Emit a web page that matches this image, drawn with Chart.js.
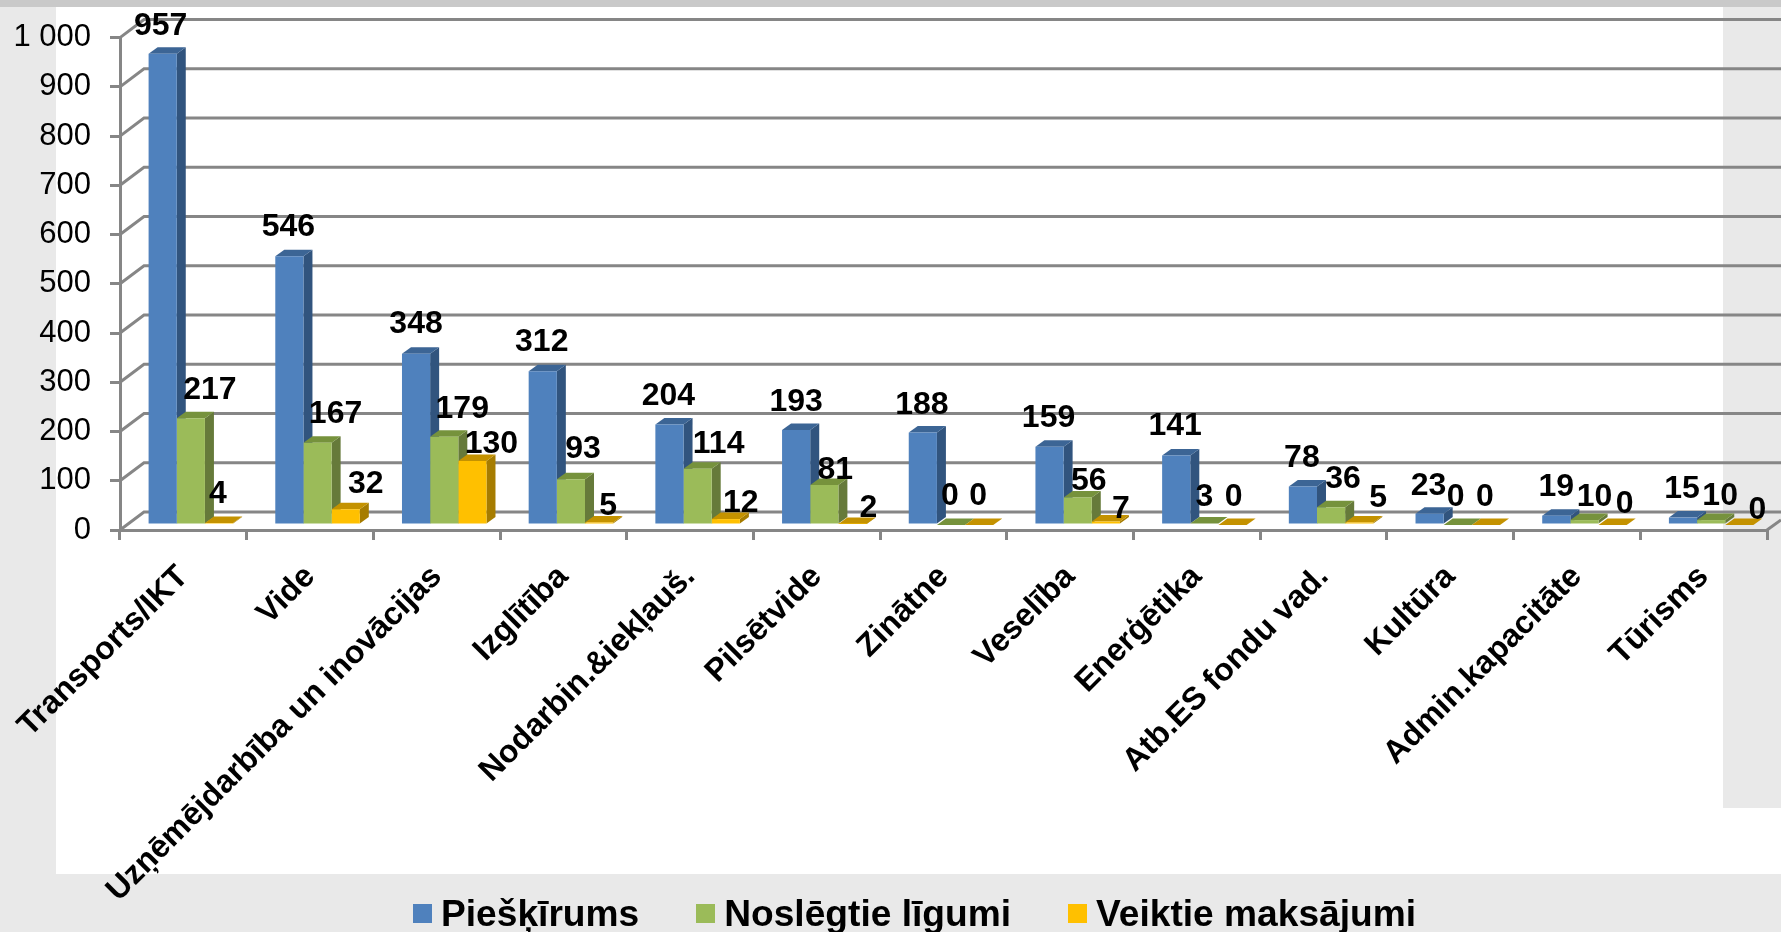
<!DOCTYPE html>
<html>
<head>
<meta charset="utf-8">
<title>Chart</title>
<script src="https://cdn.jsdelivr.net/npm/chart.js@4"></script>
<style>
    body { margin: 0; background: #e9e9e9; }
    #wrap { position: relative; width: 1781px; height: 932px; overflow: hidden; }
    #legend {
        position: absolute; left: 413px; top: 890px; display: flex; gap: 57px;
        font: bold 37.15px "Liberation Sans", Arial, sans-serif; color: #000; line-height: 46px; white-space: nowrap;
    }
    #legend div { display: flex; align-items: center; }
    #legend span { display: block; width: 19px; height: 19px; margin-right: 9px; }
</style>
</head>
<body>
<div id="wrap">
    <canvas id="myChart" width="1781" height="932"></canvas>
    <div id="legend"></div>
</div>
<script>
// Chart data
const categories = ['Transports/IKT', 'Vide', 'Uzņēmējdarbība un inovācijas', 'Izglītība', 'Nodarbin.&iekļauš.',
    'Pilsētvide', 'Zinātne', 'Veselība', 'Enerģētika', 'Atb.ES fondu vad.', 'Kultūra', 'Admin.kapacitāte', 'Tūrisms'];
const pieskirums = [957, 546, 348, 312, 204, 193, 188, 159, 141, 78, 23, 19, 15];
const ligumi = [217, 167, 179, 93, 114, 81, 0, 56, 3, 36, 0, 10, 10];
const maksajumi = [4, 32, 130, 5, 12, 2, 0, 7, 0, 5, 0, 0, 0];
const tickLabels = ['0', '100', '200', '300', '400', '500', '600', '700', '800', '900', '1 000'];

// The value labels were moved by hand in the original, so each one has its own nudge (px)
const nudgeX = [
    [-2, -1, 0, -1, -1, 0, -1, -1, -1, -1, -1, 0, -1],
    [19, 18, 18, 12, 21, 11, -1, 11, 0, 12, -2, 10, 9],
    [-1, 20, 19, 9, 15, 16, -1, 15, 1, 19, -1, 12, 18]
];
const nudgeY = [
    [-28, -29, -29, -29, -28, -28, -27, -29, -29, -28, -28, -28, -28],
    [-28, -29, -28, -30, -25, -15, -29, -16, -26, -28, -28, -23, -24],
    [-29, -25, -17, -16, -16, -16, -29, -12, -28, -24, -28, -21, -15]
];

// front, side and top face of each series
const faces = [
    { front: '#4f81bd', side: '#31547e', top: '#3c6595' },
    { front: '#9bbb59', side: '#667a3a', top: '#76923c' },
    { front: '#ffc000', side: '#a67c00', top: '#c49200' }
];

const FONT = '"Liberation Sans", Arial, sans-serif';
const GRID = '#868686';
const BAR_DX = 7.5, BAR_DY = -5;     // bars stand a bit inside the floor
const DEPTH_X = 9, DEPTH_Y = 6.5;    // bar depth
const WALL_X = 24, WALL_Y = 18;      // back wall offset

function quad(ctx, color, pts) {
    ctx.fillStyle = color;
    ctx.beginPath();
    ctx.moveTo(pts[0], pts[1]);
    ctx.lineTo(pts[2], pts[3]);
    ctx.lineTo(pts[4], pts[5]);
    ctx.lineTo(pts[6], pts[7]);
    ctx.closePath();
    ctx.fill();
}

// Slide background, back wall and the sides and tops of the bars
const fake3d = {
    id: 'fake3d',
    beforeDraw(chart) {
        let ctx = chart.ctx;
        ctx.save();
        ctx.fillStyle = '#e9e9e9';
        ctx.fillRect(0, 0, 1781, 932);
        ctx.fillStyle = '#c9c9c9';
        ctx.fillRect(0, 0, 1781, 7);
        ctx.fillStyle = '#ffffff';
        ctx.fillRect(56, 7, 1667, 867);
        ctx.fillRect(1723, 808, 58, 66);
        ctx.restore();
    },
    beforeDatasetsDraw(chart) {
        let ctx = chart.ctx, y = chart.scales.y, area = chart.chartArea;
        ctx.save();
        ctx.strokeStyle = GRID;
        ctx.lineWidth = 3;
        tickLabels.forEach(function (t, i) {
            let py = y.getPixelForValue(i * 100);
            ctx.beginPath();
            ctx.moveTo(area.left, py);
            ctx.lineTo(area.left + WALL_X, py - WALL_Y);
            ctx.lineTo(1781, py - WALL_Y);
            ctx.stroke();
        });
        let floor = y.getPixelForValue(0);
        ctx.beginPath();
        ctx.moveTo(area.right, floor);
        ctx.lineTo(1781, floor - 10);
        ctx.stroke();
        ctx.restore();
        ctx.save();
        ctx.translate(BAR_DX, BAR_DY);
        // sides and tops go first, the fronts of the next series then cover them
        chart.data.datasets.forEach(function (ds, d) {
            let c = faces[d];
            chart.getDatasetMeta(d).data.forEach(function (bar) {
                let p = bar.getProps(['x', 'y', 'base', 'width'], true);
                let r = p.x + p.width / 2, l = p.x - p.width / 2;
                quad(ctx, c.side, [r, p.y, r + DEPTH_X, p.y - DEPTH_Y, r + DEPTH_X, p.base - DEPTH_Y, r, p.base]);
                quad(ctx, c.top, [l, p.y, l + DEPTH_X, p.y - DEPTH_Y, r + DEPTH_X, p.y - DEPTH_Y, r, p.y]);
            });
        });
    },
    afterDatasetsDraw(chart) {
        let ctx = chart.ctx;
        ctx.restore();
        ctx.save();
        ctx.font = 'bold 32px ' + FONT;
        ctx.fillStyle = '#000';
        ctx.textAlign = 'center';
        ctx.textBaseline = 'middle';
        chart.data.datasets.forEach(function (ds, d) {
            chart.getDatasetMeta(d).data.forEach(function (bar, i) {
                ctx.fillText(ds.data[i], bar.x + BAR_DX + nudgeX[d][i], bar.y + BAR_DY + nudgeY[d][i]);
            });
        });
        ctx.restore();
    }
};

let data = {
    labels: categories,
    datasets: [
        { label: 'Piešķīrums', data: pieskirums, backgroundColor: faces[0].front },
        { label: 'Noslēgtie līgumi', data: ligumi, backgroundColor: faces[1].front },
        { label: 'Veiktie maksājumi', data: maksajumi, backgroundColor: faces[2].front }
    ]
};

let options = {
    responsive: false,
    animation: false,
    layout: { padding: { top: 37, right: 14, left: 0, bottom: 0 } },
    datasets: { bar: { categoryPercentage: 0.667, barPercentage: 1, clip: false } },
    plugins: { legend: { display: false }, tooltip: { enabled: false } },
    scales: {
        x: {
            afterFit(scale) { scale.height = 402; },
            grid: { drawOnChartArea: false, color: GRID, lineWidth: 3, tickLength: 10 },
            border: { color: GRID, width: 3 },
            ticks: {
                autoSkip: false, minRotation: 45, maxRotation: 45, padding: 18,
                color: '#000', font: { family: FONT, size: 32, weight: 'bold' }
            }
        },
        y: {
            min: 0,
            max: 1000,
            afterFit(scale) { scale.width = 120; },
            grid: { drawOnChartArea: false, color: GRID, lineWidth: 3, tickLength: 10 },
            border: { color: GRID, width: 3 },
            ticks: {
                stepSize: 100, padding: 19, color: '#000', font: { family: FONT, size: 31 },
                callback: function (v) { return tickLabels[v / 100]; }
            }
        }
    }
};

let ctx = document.getElementById('myChart').getContext('2d');
let myChart = new Chart(ctx, { type: 'bar', data: data, options: options, plugins: [fake3d] });

// Legend sits outside the canvas so the gap after the swatch can match
data.datasets.forEach(function (ds) {
    let item = document.createElement('div');
    let box = document.createElement('span');
    box.style.background = ds.backgroundColor;
    item.appendChild(box);
    item.appendChild(document.createTextNode(ds.label));
    document.getElementById('legend').appendChild(item);
});
</script>
</body>
</html>
